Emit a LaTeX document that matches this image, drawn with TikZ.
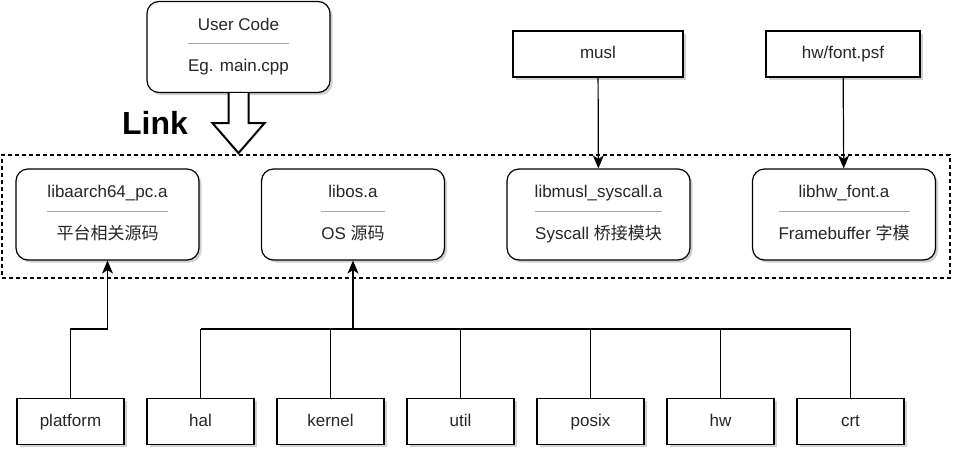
\documentclass[tikz,border=0pt]{standalone}
\usepackage{fontspec}
\usepackage{colortbl}
\setmainfont{Liberation Sans}
\newfontfamily\cjk{Noto Sans CJK SC}
\usetikzlibrary{arrows.meta}
\usetikzlibrary{shadows}
\tikzset{boxshadow/.style = {drop shadow={shadow xshift=2.5pt, shadow yshift=-2.5pt,
                                          opacity=0.18, fill=black}}}
\tikzset{libbox/.style = {draw, line width=1.2, rounded corners=12, fill=white, boxshadow,
                          minimum width=183, minimum height=91, inner sep=0,
                          text=black!85, font=\fontsize{17}{20}\selectfont}}
\tikzset{srcbox/.style = {draw, line width=1.2, fill=white, boxshadow,
                          minimum height=46, inner sep=0, text height=12.5, text depth=3.5,
                          text=black!85, font=\fontsize{17}{20}\selectfont}}
\tikzset{group/.style = {draw, line width=1.1, dash pattern=on 4pt off 3pt,
                         minimum width=948, minimum height=123}}
\tikzset{wire/.style = {line width=1.2}}
\tikzset{link/.style = {wire, -{Stealth[length=13pt, width=11pt, inset=3.5pt]}}}
\newcommand{\twoline}[2]{\arrayrulecolor{black!35}%
  \begin{tabular}{@{}c@{}}#1\\[7pt]\hline\rule{0pt}{28pt}#2\end{tabular}}

\begin{document}
\begin{tikzpicture}[x=1pt, y=-1pt]
      \useasboundingbox (0, 0) rectangle (968, 464);

      \node [group] (libs) at (476, 216.5) {};

      \node [libbox] (user) at (238.5, 47) {\twoline{User Code}{Eg. main.cpp}};
      \node [font=\fontsize{32}{36}\selectfont\bfseries] (linklbl) at (155, 123) {Link};

      \node [libbox] (arch) at (107.5, 214.5) {\twoline{libaarch64\_pc.a}{\cjk 平台相关源码}};
      \node [libbox] (os) at (353, 214.5) {\twoline{libos.a}{OS {\cjk 源码}}};
      \node [libbox] (muslib) at (598.5, 214.5) {\twoline{libmusl\_syscall.a}{Syscall {\cjk 桥接模块}}};
      \node [libbox] (fontlib) at (844, 214.5) {\twoline{libhw\_font.a}{Framebuffer {\cjk 字模}}};

      \node [srcbox, minimum width=170] (musl) at (598, 54) {musl};
      \node [srcbox, minimum width=154] (psf) at (843, 54) {hw/font.psf};

      \foreach \name/\i in {platform/0, hal/1, kernel/2, util/3, posix/4, hw/5, crt/6} {
        \node [srcbox, minimum width=107] (\name) at (70.5 + 130*\i, 421.5) {\name};
      }

      % hollow link arrow
      \draw [line width=2, fill=white] ([xshift=-10]user.south) -- ++(0, 30) -- ++(-16, 0)
        -- ++(26, 30) -- ++(26, -30) -- ++(-16, 0) -- ++(0, -30);

      \draw [link] (musl) -- (muslib);
      \draw [link] (psf) -- (fontlib);

      \coordinate (bus) at (353, 329);
      \draw [link] (platform.north) |- (bus -| arch.south) -- (arch.south);
      \draw [link] (bus) -- (os.south);
      \draw [wire] (bus -| hal.north) -- (bus -| crt.north);
      \foreach \name in {hal, kernel, util, posix, hw, crt} {
        \draw [wire] (\name.north) -- (bus -| \name.north);
      }
    \end{tikzpicture}
\end{document}
